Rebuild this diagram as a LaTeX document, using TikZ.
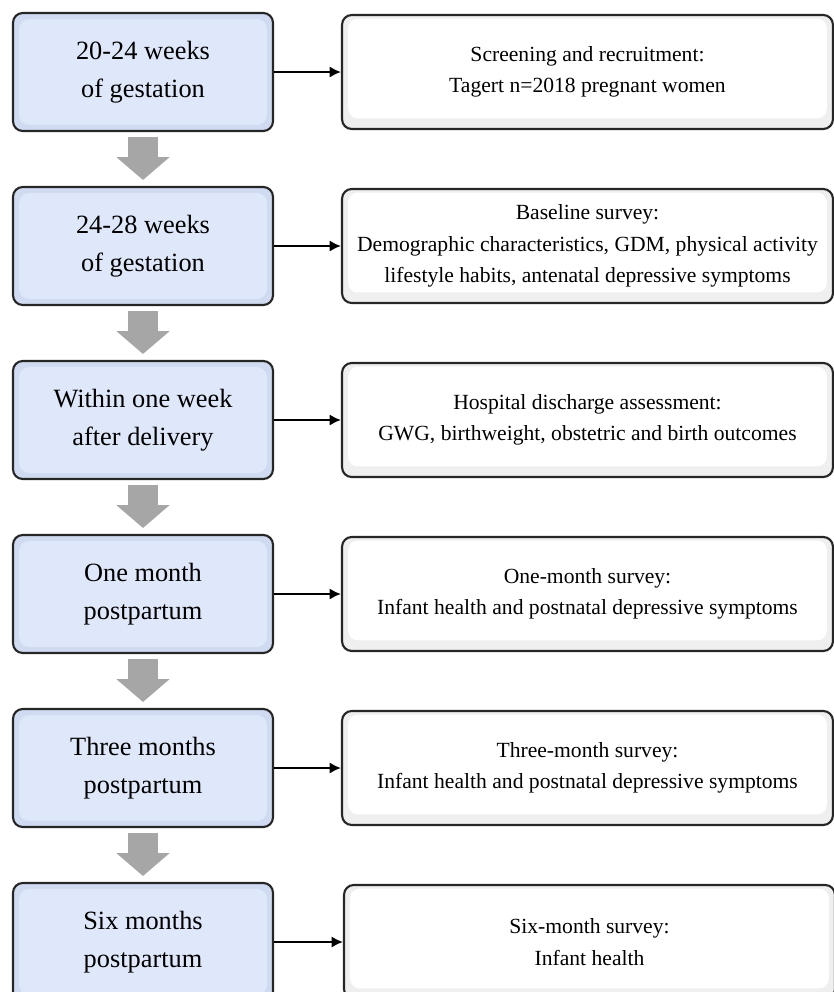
\documentclass[tikz,border=0pt]{standalone}
\usepackage{fontspec}
\setmainfont{Liberation Serif}
\usetikzlibrary{arrows.meta}

\definecolor{stageblue}{HTML}{DFE8FA}
\definecolor{stageedge}{HTML}{D0DBF1}
\definecolor{surveyedge}{HTML}{EFEFEF}
\definecolor{arrowgray}{HTML}{A6A6A6}

\tikzset{
    stage/.style={draw=black!85, line width=1.2pt, rounded corners=5.5pt,
        fill=stageedge, minimum width=5.2cm, minimum height=2.36cm,
        align=center, font=\fontsize{15}{21.6}\selectfont,
        path picture={\fill[stageblue]
            ([shift={(3.5pt,3.5pt)}]path picture bounding box.south west) rectangle
            ([shift={(-3.5pt,-3.5pt)}]path picture bounding box.north east);}},
    survey/.style={draw=black!85, line width=1.2pt, rounded corners=5.5pt,
        fill=surveyedge, minimum width=9.82cm, minimum height=2.28cm,
        align=center, font=\fontsize{12.3}{18}\selectfont,
        path picture={\fill[white]
            ([shift={(3.5pt,6pt)}]path picture bounding box.south west) rectangle
            ([shift={(-3.5pt,-2pt)}]path picture bounding box.north east);}},
    flow/.style={arrowgray, line width=17.6pt, -{Triangle[width=29.6pt,length=13pt]}},
    link/.style={line width=1.4pt, -{Latex[length=6.5pt,width=6.5pt]}}
}

\begin{document}
\begin{tikzpicture}[x=0.02cm, y=-0.02cm]
    \clip (0,0) rectangle (834,992);

    % Time points
    \node[stage] (s1) at (143,72)  {20-24 weeks\\of gestation};
    \node[stage] (s2) at (143,246) {24-28 weeks\\of gestation};
    \node[stage] (s3) at (143,420) {Within one week\\after delivery};
    \node[stage] (s4) at (143,594) {One month\\postpartum};
    \node[stage] (s5) at (143,768) {Three months\\postpartum};
    \node[stage] (s6) at (143,942) {Six months\\postpartum};

    % Surveys
    \node[survey] (v1) at (587.5,72)  {Screening and recruitment:\\Tagert n=2018 pregnant women};
    \node[survey] (v2) at (587.5,246) {Baseline survey:\\Demographic characteristics, GDM, physical activity\\lifestyle habits, antenatal depressive symptoms};
    \node[survey] (v3) at (587.5,420) {Hospital discharge assessment:\\GWG, birthweight, obstetric and birth outcomes};
    \node[survey] (v4) at (587.5,594) {One-month survey:\\Infant health and postnatal depressive symptoms};
    \node[survey] (v5) at (587.5,768) {Three-month survey:\\Infant health and postnatal depressive symptoms};
    \node[survey] (v6) at (589.5,942) {Six-month survey:\\Infant health};

    % Gray arrows down the time line
    \draw[flow] ([yshift=-0.1cm]s1.south) -- ([yshift=0.12cm]s2.north);
    \draw[flow] ([yshift=-0.1cm]s2.south) -- ([yshift=0.12cm]s3.north);
    \draw[flow] ([yshift=-0.1cm]s3.south) -- ([yshift=0.12cm]s4.north);
    \draw[flow] ([yshift=-0.1cm]s4.south) -- ([yshift=0.12cm]s5.north);
    \draw[flow] ([yshift=-0.1cm]s5.south) -- ([yshift=0.12cm]s6.north);

    % Links to the surveys
    \draw[link] (s1.east) -- (v1.west);
    \draw[link] (s2.east) -- (v2.west);
    \draw[link] (s3.east) -- (v3.west);
    \draw[link] (s4.east) -- (v4.west);
    \draw[link] (s5.east) -- (v5.west);
    \draw[link] (s6.east) -- (v6.west);
\end{tikzpicture}
\end{document}
